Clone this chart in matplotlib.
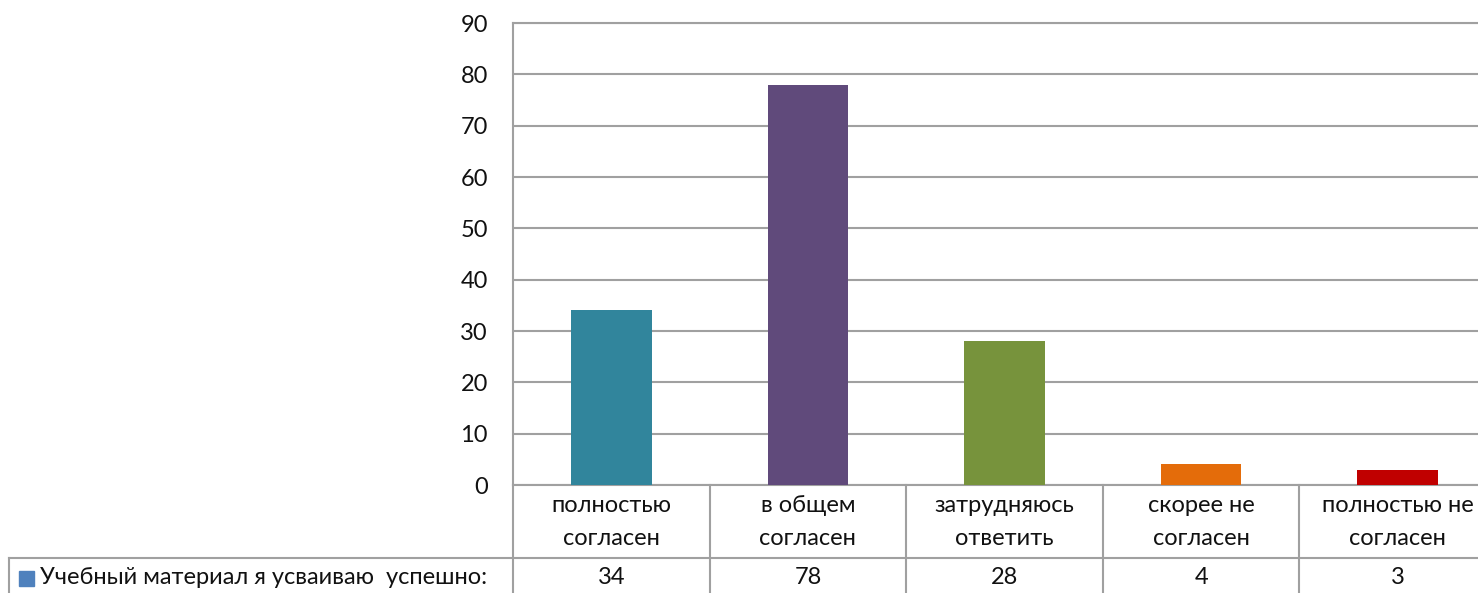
import numpy as np
import matplotlib.pyplot as plt

categories = ['полностью\nсогласен', 'в общем\nсогласен', 'затрудняюсь\nответить',
              'скорее не\nсогласен', 'полностью не\nсогласен']
values = [34, 78, 28, 4, 3]
colors = ['#31859C', '#604A7B', '#77933C', '#E46C0A', '#C00000']
series_name = 'Учебный материал я усваиваю  успешно:'

plt.rcParams['font.family'] = ['Lato', 'DejaVu Sans']
fs = 17
W, H = 1478, 593
fig = plt.figure(figsize=(W / 100, H / 100), dpi=100)
# plot area runs past the right edge, like the original
ax = fig.add_axes([513 / W, (H - 485) / H, (1496 - 513) / W, 462 / H])

grid_c = '#A0A0A0'
x = np.arange(len(values))
ax.bar(x, values, width=0.41, color=colors, zorder=3)
ax.set_xlim(-0.5, len(values) - 0.5)
ax.set_ylim(0, 90)
ax.set_yticks(range(0, 91, 10))
ax.yaxis.grid(True, color=grid_c, lw=1.5)
ax.set_axisbelow(True)
ax.set_xticks([])
ax.tick_params(axis='y', length=0, pad=18, labelsize=fs, labelcolor='#111111')
for s in ax.spines.values():
    s.set_color(grid_c)
    s.set_linewidth(1.5)

# data table under the chart
tr = ax.get_xaxis_transform()
row1 = -(558 - 485) / 462      # bottom of category row (axes fraction)
bottom = -(620 - 485) / 462
px = (1496 - 513) / len(values)   # pixels per category
left = -0.5 - (513 - 9.5) / px

ax.plot([left, len(values) - 0.5], [row1, row1], transform=tr, color=grid_c, lw=1.5, clip_on=False)
for b in np.arange(len(values) + 1) - 0.5:
    ax.plot([b, b], [0, bottom], transform=tr, color=grid_c, lw=1.5, clip_on=False)
ax.plot([left, left], [row1, bottom], transform=tr, color=grid_c, lw=1.5, clip_on=False)

for i, (c, v) in enumerate(zip(categories, values)):
    ax.text(i, -(522 - 485) / 462, c, transform=tr, ha='center', va='center', fontsize=fs,
            linespacing=1.65, color='#111111', clip_on=False)
    ax.text(i, -(577 - 485) / 462, str(v), transform=tr, ha='center', va='center',
            fontsize=fs, color='#111111', clip_on=False)

# legend key in the table's first column
fig.add_artist(plt.Rectangle((19 / W, 1 - 586 / H), 15 / W, 15 / H, color='#4F81BD'))
fig.text(40 / W, 1 - 577 / H, series_name, fontsize=fs, va='center', color='#111111')

fig.savefig('out.png', dpi=100)
